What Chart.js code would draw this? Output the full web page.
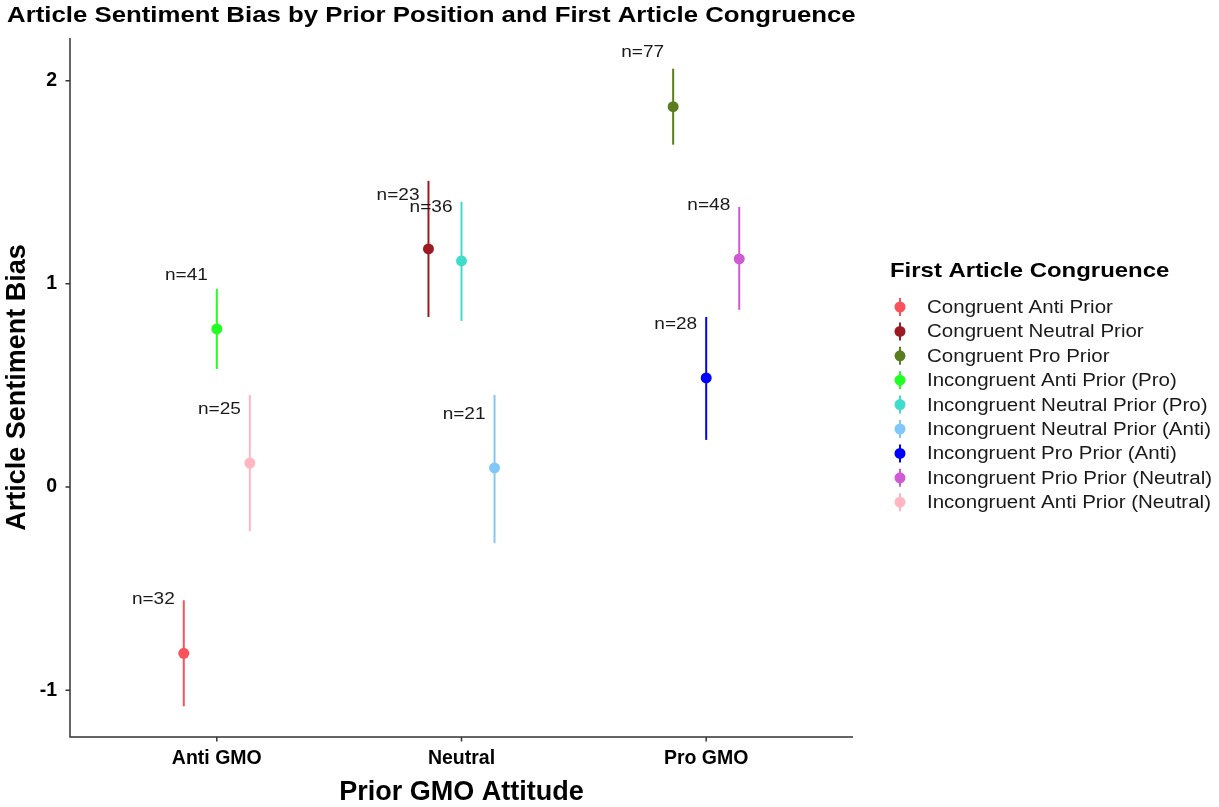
<!DOCTYPE html>
<html lang="en">
<head>
<meta charset="UTF-8"/>
<title>Article Sentiment Bias</title>
<script src="https://cdn.jsdelivr.net/npm/chart.js"></script>
<style>
  body { margin: 0; background: #fff; }
  #wrap { width: 1219px; height: 807px; }
</style>
</head>
<body>
<div id="wrap"><canvas id="myChart" width="1219" height="807"></canvas></div>
<script>
// data
var groups = ['Anti GMO', 'Neutral', 'Pro GMO'];
var seriesNames = [
    'Congruent Anti Prior',
    'Congruent Neutral Prior',
    'Congruent Pro Prior',
    'Incongruent Anti Prior (Pro)',
    'Incongruent Neutral Prior (Pro)',
    'Incongruent Neutral Prior (Anti)',
    'Incongruent Pro Prior (Anti)',
    'Incongruent Prio Prior (Neutral)',
    'Incongruent Anti Prior (Neutral)'
];
var seriesColors = ['#F9525B', '#9B1B24', '#5A7D1F', '#22FF22', '#40DCCB', '#80C8FA', '#0000FF', '#CF5AD3', '#FFB6C1'];
var seriesGroup = [0, 1, 2, 0, 1, 1, 2, 2, 0];
var seriesDodge = [-1, -1, -1, 0, 0, 1, 0, 1, 1];
var means = [-0.818, 1.172, 1.872, 0.778, 1.113, 0.094, 0.537, 1.123, 0.118];
var lower = [-1.079, 0.837, 1.685, 0.581, 0.818, -0.276, 0.232, 0.872, -0.217];
var upper = [-0.557, 1.507, 2.059, 0.975, 1.404, 0.453, 0.837, 1.379, 0.453];
var counts = [32, 23, 77, 41, 36, 21, 28, 48, 25];
var yTicks = [-1, 0, 1, 2];

var dodgeWidth = 0.135;
var labelLift = 0.266;
var FONT = '"Liberation Sans", Arial, sans-serif';

var datasets = seriesNames.map(function(name, i) {
    return {
        label: name,
        data: [{ x: seriesGroup[i] + seriesDodge[i] * dodgeWidth, y: means[i] }],
        backgroundColor: seriesColors[i],
        borderColor: seriesColors[i],
        pointRadius: 5.5,
        pointBorderWidth: 0
    };
});

var axisColor = '#333333';

// text a bit wider than the font, like the original render
function wideText(ctx, text, x, y, sx, align) {
    ctx.save();
    ctx.translate(x, y);
    ctx.scale(sx, 1);
    ctx.textAlign = align;
    ctx.fillText(text, 0, 0);
    ctx.restore();
}

var ggPlugin = {
    id: 'gg',
    beforeDatasetsDraw: function(chart) {
        var ctx = chart.ctx;
        var xs = chart.scales.x, ys = chart.scales.y;
        ctx.save();
        ctx.lineWidth = 2;
        for (var i = 0; i < seriesNames.length; i++) {
            var px = xs.getPixelForValue(seriesGroup[i] + seriesDodge[i] * dodgeWidth);
            ctx.strokeStyle = seriesColors[i];
            ctx.beginPath();
            ctx.moveTo(px, ys.getPixelForValue(lower[i]));
            ctx.lineTo(px, ys.getPixelForValue(upper[i]));
            ctx.stroke();
        }
        ctx.restore();
    },
    afterDraw: function(chart) {
        var ctx = chart.ctx;
        var xs = chart.scales.x, ys = chart.scales.y;
        var a = chart.chartArea;
        ctx.save();

        // axis lines and ticks
        ctx.strokeStyle = axisColor;
        ctx.lineWidth = 1.5;
        ctx.beginPath();
        ctx.moveTo(a.left, a.top);
        ctx.lineTo(a.left, a.bottom);
        ctx.lineTo(a.right, a.bottom);
        yTicks.forEach(function(v) {
            var py = ys.getPixelForValue(v);
            ctx.moveTo(a.left - 4.5, py);
            ctx.lineTo(a.left, py);
        });
        groups.forEach(function(g, k) {
            var px = xs.getPixelForValue(k);
            ctx.moveTo(px, a.bottom);
            ctx.lineTo(px, a.bottom + 4.5);
        });
        ctx.stroke();

        // n labels
        ctx.fillStyle = '#1a1a1a';
        ctx.font = '17px ' + FONT;
        ctx.textBaseline = 'middle';
        for (var i = 0; i < seriesNames.length; i++) {
            var px = xs.getPixelForValue(seriesGroup[i] + seriesDodge[i] * dodgeWidth);
            var py = ys.getPixelForValue(means[i] + labelLift);
            wideText(ctx, 'n=' + counts[i], px - 9, py, 1.12, 'right');
        }

        // title
        ctx.fillStyle = '#000';
        ctx.font = 'bold 21.5px ' + FONT;
        wideText(ctx, 'Article Sentiment Bias by Prior Position and First Article Congruence', 7, 16, 1.2, 'left');

        // legend
        ctx.font = 'bold 21px ' + FONT;
        wideText(ctx, 'First Article Congruence', 890, 271, 1.14, 'left');
        ctx.font = '18px ' + FONT;
        for (var j = 0; j < seriesNames.length; j++) {
            var ry = 307 + j * 24.4;
            ctx.strokeStyle = seriesColors[j];
            ctx.lineWidth = 2;
            ctx.beginPath();
            ctx.moveTo(900, ry - 9);
            ctx.lineTo(900, ry + 9);
            ctx.stroke();
            ctx.fillStyle = seriesColors[j];
            ctx.beginPath();
            ctx.arc(900, ry, 5.5, 0, Math.PI * 2);
            ctx.fill();
            ctx.fillStyle = '#1a1a1a';
            wideText(ctx, seriesNames[j], 927, ry + 1, 1.14, 'left');
        }
        ctx.restore();
    }
};

new Chart(document.getElementById('myChart').getContext('2d'), {
    type: 'scatter',
    data: { datasets: datasets },
    options: {
        responsive: false,
        animation: false,
        layout: { padding: { top: 38, right: 366, left: 0, bottom: 0 } },
        plugins: {
            legend: { display: false },
            tooltip: { enabled: false },
            title: { display: false }
        },
        scales: {
            x: {
                type: 'linear',
                min: -0.6,
                max: 2.6,
                grid: { display: false, drawTicks: false },
                border: { display: false },
                afterBuildTicks: function(scale) {
                    scale.ticks = groups.map(function(g, k) { return { value: k }; });
                },
                afterFit: function(scale) { scale.height = 70; },
                ticks: {
                    padding: 10,
                    maxRotation: 0,
                    color: '#000',
                    font: { family: FONT, size: 19.5, weight: 'bold' },
                    callback: function(v) { return groups[v]; }
                },
                title: {
                    display: true,
                    text: 'Prior GMO Attitude',
                    color: '#000',
                    padding: { top: 0, bottom: 1 },
                    font: { family: FONT, size: 27, weight: 'bold', lineHeight: 1 }
                }
            },
            y: {
                min: -1.23,
                max: 2.21,
                grid: { display: false, drawTicks: false },
                border: { display: false },
                afterBuildTicks: function(scale) {
                    scale.ticks = yTicks.map(function(v) { return { value: v }; });
                },
                afterFit: function(scale) { scale.width = 70; },
                ticks: {
                    padding: 13,
                    color: '#000',
                    font: { family: FONT, size: 19.5, weight: 'bold' }
                },
                title: {
                    display: true,
                    text: 'Article Sentiment Bias',
                    color: '#000',
                    padding: { top: 4, bottom: 0 },
                    font: { family: FONT, size: 27, weight: 'bold', lineHeight: 1 }
                }
            }
        }
    },
    plugins: [ggPlugin]
});
</script>
</body>
</html>
